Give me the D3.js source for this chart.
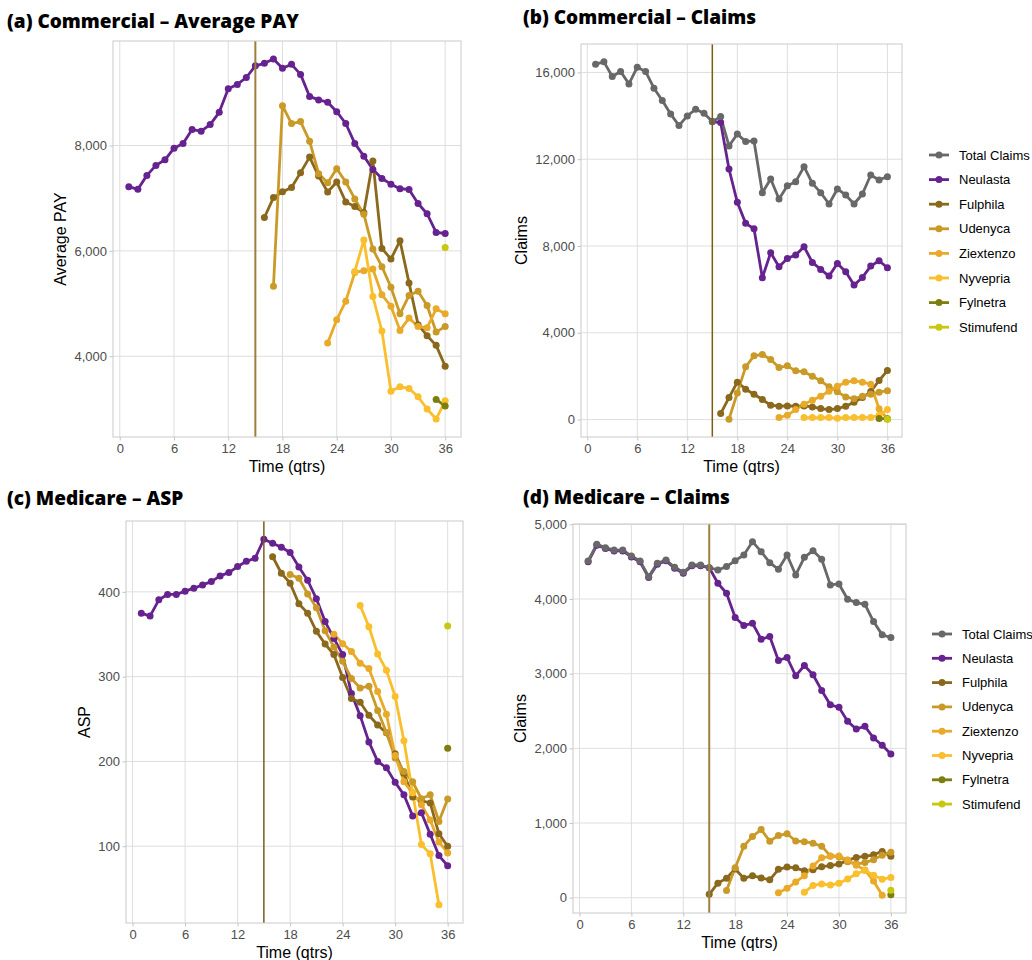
<!DOCTYPE html>
<html><head><meta charset="utf-8">
<script src="https://cdn.jsdelivr.net/npm/d3@7"></script>
<style>body{margin:0;background:#fff;} svg{display:block;font-family:"Liberation Sans",Arial,sans-serif;}</style>
</head><body><svg id="chart" width="1032" height="960"></svg>
<script>
// ---------- categories / ticks ----------
const quarters = [1,2,3,4,5,6,7,8,9,10,11,12,13,14,15,16,17,18,19,20,21,22,23,24,25,26,27,28,29,30,31,32,33,34,35,36];
const xTicks = [0,6,12,18,24,30,36];
const seriesNames  = ["Total Claims","Neulasta","Fulphila","Udenyca","Ziextenzo","Nyvepria","Fylnetra","Stimufend"];
const seriesColors = ["#686868","#66238F","#8A681C","#CA9A29","#E9AA29","#F9BF2D","#7E7E0E","#C8C810"];
const launchQuarter = 15;

// ---------- (a) Commercial – Average PAY ----------
const aYTicks = [4000,6000,8000];
const aNeulasta  = [7219,7168,7433,7622,7729,7950,8038,8302,8271,8397,8630,9077,9159,9291,9512,9560,9642,9468,9540,9350,8932,8866,8822,8642,8418,8040,7798,7546,7373,7266,7181,7165,6900,6705,6350,6330]; // from q1
const aFulphila  = [6633,7011,7120,7205,7485,7780,7420,7118,7307,6929,6841,6727,7704,6047,5845,6192,5392,4600,4390,4207,3811]; // from q16
const aUdenyca   = [5329,8756,8416,8454,8082,7465,7294,7559,7307,6986,6696,6034,5700,5310,4806,5153,5234,4963,4459,4566]; // from q17
const aZiextenzo = [4251,4693,5045,5590,5625,5656,5165,4951,4491,4724,4566,4541,4900,4806]; // from q23
const aNyvepria  = [5610,6205,5134,4478,3338,3420,3388,3231,2998,2809,3155]; // from q26
const aFylnetra  = [3180,3054]; // from q35
const aStimufend = [6066];      // q36

// ---------- (b) Commercial – Claims ----------
const bYTicks = [0,4000,8000,12000,16000];
const bTotal     = [16380,16487,15811,16042,15472,16241,16042,15272,14703,14088,13550,13996,14303,14119,13734,13965,12612,13165,12812,12842,10458,11089,10166,10781,10966,11658,10889,10458,9935,10628,10351,9935,10397,11273,11043,11196]; // from q1
const bNeulasta  = [13734,13688,11550,10012,9043,8797,6536,7690,7044,7429,7582,7967,7244,6921,6613,7198,6813,6198,6552,7075,7321,6998]; // from q15
const bFulphila  = [277,1015,1723,1400,1169,923,661,615,630,615,630,584,507,461,507,615,800,1015,1292,1800,2260]; // from q16
const bUdenyca   = [20,1230,2430,2938,2999,2768,2400,2476,2245,2199,2000,1784,1507,1277,1046,954,1077,1169,1260,1330]; // from q17
const bZiextenzo = [92,200,461,707,892,1077,1307,1538,1723,1784,1723,1630,500,30]; // from q23
const bNyvepria  = [90,90,90,100,60,90,90,100,100,200,461]; // from q26
const bFylnetra  = [46,40];  // from q35
const bStimufend = [20];     // q36

// ---------- (c) Medicare – ASP ----------
const cYTicks = [100,200,300,400];
const cNeulasta  = [374.9,371.4,390.6,396.9,396.9,400.8,404.3,408.2,412.1,418.8,422.7,429.8,436.0,439.6,462,457.4,452.5,446.4,429.4,413.7,391.8,365,345,326,280,254,223,200,192.5,175.3,160.7,135.6,139.6,114,89,77]; // from q1
const cFulphila  = [441.5,421.9,410.2,385.9,374.9,353.4,338.5,326,299,274.3,269.7,254.5,243,233.7,209,186,158,153.8,151,114.6,100]; // from q16
const cUdenyca   = [420.5,416,397.6,381.2,354,335,318,297.8,286.6,288.8,260,234,204,188,176,156,160.7,129.3,155.6]; // from q18
const cZiextenzo = [350,338.9,329.7,315.8,309.5,282.5,255.6,207,176,163,149,131,105,92]; // from q23
const cNyvepria  = [384,358.8,326.7,307.6,276.6,224.3,163,101.9,91,31]; // from q26
const cFylnetra  = [215.5]; // q36
const cStimufend = [359.7]; // q36

// ---------- (d) Medicare – Claims ----------
const dYTicks = [0,1000,2000,3000,4000,5000];
const dTotal     = [4510,4732,4688,4656,4656,4576,4510,4300,4478,4523,4425,4358,4456,4456,4420,4389,4434,4514,4590,4768,4634,4487,4398,4590,4322,4558,4648,4532,4189,4202,3997,3952,3930,3698,3520,3485]; // from q1
const dNeulasta  = [4498,4720,4676,4644,4644,4564,4498,4288,4466,4511,4413,4346,4444,4444,4420,4211,4077,3752,3645,3676,3462,3498,3177,3217,2972,3110,2986,2776,2584,2549,2362,2259,2295,2139,2041,1925]; // from q1
const dFulphila  = [45,195,260,385,260,295,265,240,380,410,400,360,375,415,430,450,500,540,555,575,620,555]; // from q15
const dUdenyca   = [98,400,690,820,913,757,833,857,759,750,730,690,560,550,480,450,470,510,570,610]; // from q17
const dZiextenzo = [65,125,210,295,425,535,555,560,505,435,370,225,32]; // from q23
const dNyvepria  = [72,165,185,170,195,250,320,365,300,248,272]; // from q26
const dFylnetra  = [40];  // q36
const dStimufend = [100]; // q36

// ---------- panel definitions (built from the arrays) ----------
const panels = [
  {title:"(a) Commercial – Average PAY", tx:7, ty:28, ytitle:"Average PAY", box:[113,41,461,437], yTicks:aYTicks, legend:null,
   vline:{color:"#9E7E3A", w:2},
   series:[["Neulasta",1,aNeulasta],["Fulphila",16,aFulphila],["Udenyca",17,aUdenyca],["Ziextenzo",23,aZiextenzo],["Nyvepria",26,aNyvepria],["Fylnetra",35,aFylnetra],["Stimufend",36,aStimufend]]},
  {title:"(b) Commercial – Claims", tx:523, ty:24, ytitle:"Claims", box:[581,44,902,437], yTicks:bYTicks, legend:{x:929, y:155, dy:24.6},
   vline:{color:"#7C5C14", w:1.5},
   series:[["Neulasta",15,bNeulasta],["Total Claims",1,bTotal],["Fulphila",16,bFulphila],["Udenyca",17,bUdenyca],["Ziextenzo",23,bZiextenzo],["Nyvepria",26,bNyvepria],["Fylnetra",35,bFylnetra],["Stimufend",36,bStimufend]]},
  {title:"(c) Medicare – ASP", tx:7, ty:505, ytitle:"ASP", box:[126,521,463,923], yTicks:cYTicks, legend:null,
   vline:{color:"#7A5C1E", w:1.5},
   series:[["Neulasta",1,cNeulasta],["Fulphila",16,cFulphila],["Udenyca",18,cUdenyca],["Ziextenzo",23,cZiextenzo],["Nyvepria",26,cNyvepria],["Fylnetra",36,cFylnetra],["Stimufend",36,cStimufend]]},
  {title:"(d) Medicare – Claims", tx:523, ty:504, ytitle:"Claims", box:[573,524,906,913], yTicks:dYTicks, legend:{x:932, y:634, dy:24.3},
   vline:{color:"#9E8242", w:2},
   series:[["Neulasta",1,dNeulasta],["Total Claims",1,dTotal],["Fulphila",15,dFulphila],["Udenyca",17,dUdenyca],["Ziextenzo",23,dZiextenzo],["Nyvepria",26,dNyvepria],["Fylnetra",36,dFylnetra],["Stimufend",36,dStimufend]]}
];

const color = d3.scaleOrdinal().domain(seriesNames).range(seriesColors);
const svg = d3.select("#chart");
const fmt = d3.format(",");

panels.forEach(p => {
  const [x0,y0,x1,y1] = p.box;
  const data = p.series.map(([name,start,vals]) => ({
    name, pts: vals.map((v,i) => ({q: quarters[quarters.indexOf(start)+i], v}))
  }));
  const allV = data.flatMap(s => s.pts.map(d => d.v));
  const vmin = d3.min(allV), vmax = d3.max(allV), pad = (vmax-vmin)*0.05;
  const qmin = d3.min(quarters), qmax = d3.max(quarters), qpad = (qmax-qmin)*0.05;
  const x = d3.scaleLinear().domain([qmin-qpad, qmax+qpad]).range([x0,x1]);
  const y = d3.scaleLinear().domain([vmin-pad, vmax+pad]).range([y1,y0]);
  const g = svg.append("g");

  // grid
  g.selectAll(null).data(xTicks).join("line")
    .attr("x1",d=>x(d)).attr("x2",d=>x(d)).attr("y1",y0).attr("y2",y1)
    .attr("stroke","#DEDEDE").attr("stroke-width",1);
  g.selectAll(null).data(p.yTicks).join("line")
    .attr("x1",x0).attr("x2",x1).attr("y1",d=>y(d)).attr("y2",d=>y(d))
    .attr("stroke","#DEDEDE").attr("stroke-width",1);

  // axes via d3
  const xAxis = d3.axisBottom(x).tickValues(xTicks).tickSize(3.5).tickPadding(3).tickFormat(d3.format("d"));
  const yAxis = d3.axisLeft(y).tickValues(p.yTicks).tickSize(3.5).tickPadding(2.5).tickFormat(fmt);
  const gx = g.append("g").attr("transform",`translate(0,${y1})`).call(xAxis);
  const gy = g.append("g").attr("transform",`translate(${x0},0)`).call(yAxis);
  [gx,gy].forEach(a => {
    a.select(".domain").remove();
    a.selectAll(".tick line").attr("stroke","#C4C4C4");
    a.selectAll(".tick text").attr("fill","#4D4D4D").attr("font-size",13)
      .attr("font-family","Liberation Sans, Arial, sans-serif");
  });

  // data lines
  const line = d3.line().x(d=>x(d.q)).y(d=>y(d.v));
  g.selectAll(null).data(data).join("path")
    .attr("d", s => line(s.pts)).attr("fill","none")
    .attr("stroke", s => color(s.name)).attr("stroke-width",2.8)
    .attr("stroke-linejoin","round");
  data.forEach(s => {
    g.selectAll(null).data(s.pts).join("circle")
      .attr("cx",d=>x(d.q)).attr("cy",d=>y(d.v)).attr("r",3.5)
      .attr("fill",color(s.name));
  });

  // launch line
  g.append("line").attr("x1",x(launchQuarter)).attr("x2",x(launchQuarter))
    .attr("y1",y0).attr("y2",y1).attr("stroke",p.vline.color).attr("stroke-width",p.vline.w);

  // border
  g.append("rect").attr("x",x0).attr("y",y0).attr("width",x1-x0).attr("height",y1-y0)
    .attr("fill","none").attr("stroke","#CACACA").attr("stroke-width",1);

  // titles
  svg.append("text").attr("x",p.tx).attr("y",p.ty).text(p.title)
    .attr("font-size",19).attr("font-weight",800).attr("fill","#000")
    .attr("font-family","'Open Sans', 'Liberation Sans', Arial, sans-serif");
  svg.append("text").attr("x",(x0+x1)/2).attr("y",y1+35).attr("text-anchor","middle")
    .attr("font-size",16).attr("fill","#000").text("Time (qtrs)");
  let maxW = 0;
  gy.selectAll(".tick text").each(function(){ maxW = Math.max(maxW, this.getComputedTextLength()); });
  const tcx = x0 - 6 - maxW - 14;
  svg.append("text").attr("transform",`translate(${tcx+5.5},${(y0+y1)/2}) rotate(-90)`)
    .attr("text-anchor","middle").attr("font-size",16).attr("fill","#000").text(p.ytitle);

  // legend
  if (p.legend) {
    const lg = svg.append("g");
    seriesNames.forEach((n,i) => {
      const yy = p.legend.y + i*p.legend.dy;
      lg.append("line").attr("x1",p.legend.x).attr("x2",p.legend.x+20).attr("y1",yy).attr("y2",yy)
        .attr("stroke",color(n)).attr("stroke-width",2.8);
      lg.append("circle").attr("cx",p.legend.x+10).attr("cy",yy).attr("r",3.5).attr("fill",color(n));
      lg.append("text").attr("x",p.legend.x+30).attr("y",yy).attr("dy","0.35em")
        .attr("font-size",13).attr("fill","#000").text(n);
    });
  }
});
</script></body></html>
